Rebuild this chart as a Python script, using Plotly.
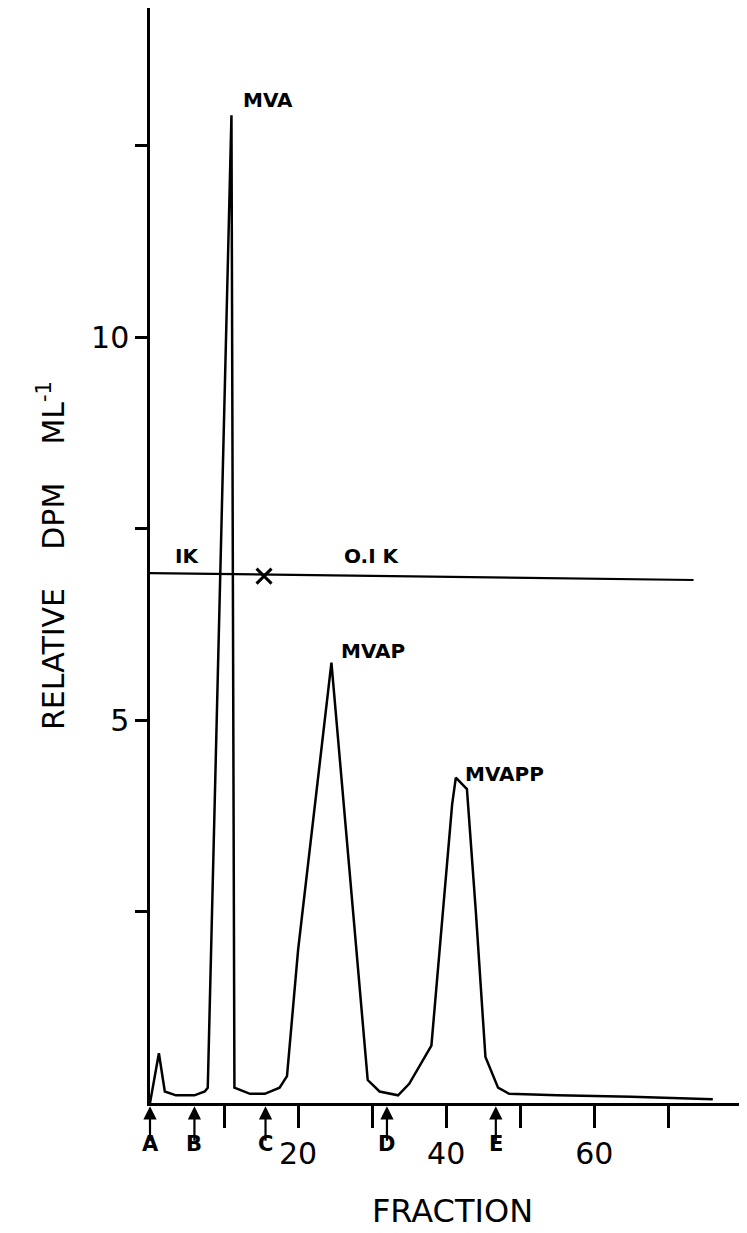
import plotly.graph_objects as go

# elution profile (fraction, relative dpm/ml)
fraction = [0, 1.2, 2.0, 3.5, 6, 7.4, 7.8, 11.0, 11.4, 12.0, 13.5, 15.5, 17.5, 18.5, 20.0, 24.5,
            26.5, 29.4, 31, 33.5, 35, 38, 40.8, 41.3, 42.8, 44, 45.3, 47, 48.5, 55, 65, 76]
dpm = [0, 0.65, 0.15, 0.1, 0.1, 0.15, 0.2, 12.9, 0.2, 0.18, 0.12, 0.12, 0.2, 0.35, 2.0, 5.75,
       3.5, 0.3, 0.15, 0.1, 0.25, 0.75, 3.9, 4.25, 4.1, 2.5, 0.6, 0.2, 0.12, 0.1, 0.08, 0.05]

salt_x = [0, 73.4]
salt_y = [6.92, 6.83]

peak_names = ["MVA", "MVAP", "MVAPP"]
peak_x = [12.3, 25.5, 42.3]
peak_y = [13.1, 5.9, 4.3]

marker_names = ["A", "B", "C", "D", "E"]
marker_x = [0, 6.0, 15.6, 32.0, 46.7]

x_ticks = [10, 20, 30, 40, 50, 60, 70]
x_labels = ["", "20", "", "40", "", "60", ""]
y_ticks = [2.5, 5, 7.5, 10, 12.5]
y_labels = ["", "5", "", "10", ""]

font = dict(family="DejaVu Sans", color="black")

fig = go.Figure()
fig.add_trace(go.Scatter(x=fraction, y=dpm, mode="lines", cliponaxis=False,
                         line=dict(color="black", width=2.5), showlegend=False))
fig.add_trace(go.Scatter(x=salt_x, y=salt_y, mode="lines",
                         line=dict(color="black", width=2.2), showlegend=False))
fig.add_trace(go.Scatter(x=[15.4], y=[6.88], mode="markers",
                         marker=dict(symbol="x-thin", size=15, line=dict(width=3, color="black")),
                         showlegend=False))

for name, px, py in zip(peak_names, peak_x, peak_y):
    fig.add_annotation(x=px, y=py, text="<b>" + name + "</b>", showarrow=False,
                       xanchor="left", font=dict(size=20, **font))

fig.add_annotation(x=5, y=7.15, text="<b>IK</b>", showarrow=False, font=dict(size=20, **font))
fig.add_annotation(x=30, y=7.15, text="<b>O.I K</b>", showarrow=False, font=dict(size=20, **font))

for name, mx in zip(marker_names, marker_x):
    fig.add_annotation(x=mx, y=-0.003, xref="x", yref="paper", ax=0, ay=36,
                       showarrow=True, arrowhead=2, arrowsize=1.2, arrowwidth=2.2,
                       arrowcolor="black", text="")
    fig.add_annotation(x=mx, y=-0.05, xref="x", yref="paper", text="<b>" + name + "</b>",
                       showarrow=False, font=dict(size=21, **font))

fig.update_layout(
    width=747, height=1233, margin=dict(l=142, r=0, t=0, b=138),
    paper_bgcolor="white", plot_bgcolor="white",
    xaxis=dict(range=[0, 81.7], tickvals=x_ticks, ticktext=x_labels, ticks="outside",
               ticklen=22, tickwidth=2.5, tickcolor="black", showgrid=False, zeroline=False,
               automargin=False, showline=True, linecolor="black", linewidth=3,
               tickfont=dict(size=30, **font),
               title=dict(text="FRACTION", font=dict(size=32, **font), standoff=30)),
    yaxis=dict(range=[0, 14.3], tickvals=y_ticks, ticktext=y_labels, ticks="outside",
               ticklen=12, tickwidth=2.5, tickcolor="black", showgrid=False, zeroline=False,
               automargin=False, showline=True, linecolor="black", linewidth=2.5,
               tickfont=dict(size=30, **font),
               title=dict(text="RELATIVE    DPM    ML<sup>-1</sup>", font=dict(size=30, **font),
                          standoff=18)),
)

fig.write_html("out.html")
